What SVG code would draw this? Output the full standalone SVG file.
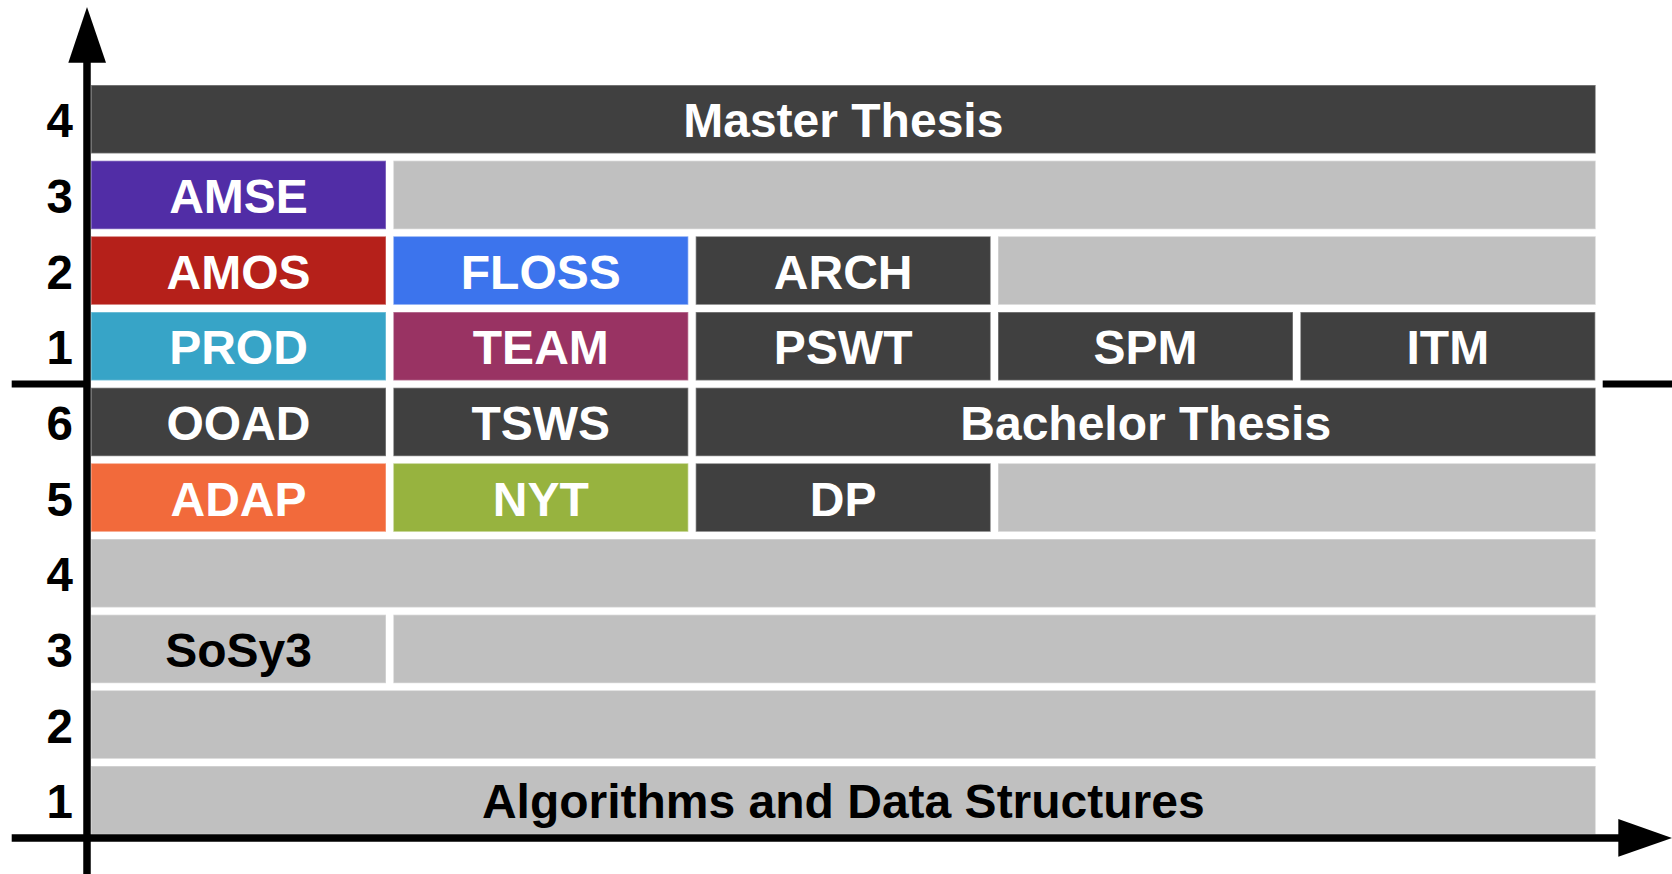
<svg xmlns="http://www.w3.org/2000/svg" width="1672" height="874" viewBox="0 0 1672 874">
<style>
.c{stroke:#ffffff;stroke-opacity:0.35;stroke-width:1.5}
.dk{fill:#404040}.gr{fill:#c0c0c0}
.t{font-family:"Liberation Sans",Arial,sans-serif;font-weight:bold;font-size:48px;text-anchor:middle;fill:#ffffff}
.tb{fill:#000000}
.lab{font-family:"Liberation Sans",Arial,sans-serif;font-weight:bold;font-size:47.5px;text-anchor:end;fill:#000000}
.ax{stroke:#000000;stroke-width:7.5;fill:none}
</style>
<rect width="1672" height="874" fill="#ffffff"/>
<g id="labels">
<text class="lab" x="73" y="137.3">4</text>
<text class="lab" x="73" y="213">3</text>
<text class="lab" x="73" y="288.6">2</text>
<text class="lab" x="73" y="364.3">1</text>
<text class="lab" x="73" y="440">6</text>
<text class="lab" x="73" y="515.6">5</text>
<text class="lab" x="73" y="591.3">4</text>
<text class="lab" x="73" y="667">3</text>
<text class="lab" x="73" y="742.6">2</text>
<text class="lab" x="73" y="818.3">1</text>
</g>
<g id="master"><rect class="c dk" x="91" y="85" width="1504.7" height="68.5"/><text class="t" x="843.3" y="137.3">Master Thesis</text></g>
<g id="amse"><rect class="c" fill="#512da6" x="91" y="160.7" width="295" height="68.5"/><text class="t" x="238.5" y="213">AMSE</text></g>
<g id="r1gap"><rect class="c gr" x="393.3" y="160.7" width="1202.4" height="68.5"/></g>
<g id="amos"><rect class="c" fill="#b5201a" x="91" y="236.3" width="295" height="68.5"/><text class="t" x="238.5" y="288.6">AMOS</text></g>
<g id="floss"><rect class="c" fill="#3c74ed" x="393.3" y="236.3" width="295" height="68.5"/><text class="t" x="540.8" y="288.6">FLOSS</text></g>
<g id="arch"><rect class="c dk" x="695.7" y="236.3" width="295" height="68.5"/><text class="t" x="843.2" y="288.6">ARCH</text></g>
<g id="r2gap"><rect class="c gr" x="998" y="236.3" width="597.7" height="68.5"/></g>
<g id="prod"><rect class="c" fill="#37a4c7" x="91" y="312" width="295" height="68.5"/><text class="t" x="238.5" y="364.3">PROD</text></g>
<g id="team"><rect class="c" fill="#993363" x="393.3" y="312" width="295" height="68.5"/><text class="t" x="540.8" y="364.3">TEAM</text></g>
<g id="pswt"><rect class="c dk" x="695.7" y="312" width="295" height="68.5"/><text class="t" x="843.2" y="364.3">PSWT</text></g>
<g id="spm"><rect class="c dk" x="998" y="312" width="295" height="68.5"/><text class="t" x="1145.5" y="364.3">SPM</text></g>
<g id="itm"><rect class="c dk" x="1300.3" y="312" width="295" height="68.5"/><text class="t" x="1447.8" y="364.3">ITM</text></g>
<g id="ooad"><rect class="c dk" x="91" y="387.7" width="295" height="68.5"/><text class="t" x="238.5" y="440">OOAD</text></g>
<g id="tsws"><rect class="c dk" x="393.3" y="387.7" width="295" height="68.5"/><text class="t" x="540.8" y="440">TSWS</text></g>
<g id="bachelor"><rect class="c dk" x="695.7" y="387.7" width="900" height="68.5"/><text class="t" x="1145.7" y="440">Bachelor Thesis</text></g>
<g id="adap"><rect class="c" fill="#f26a3b" x="91" y="463.3" width="295" height="68.5"/><text class="t" x="238.5" y="515.6">ADAP</text></g>
<g id="nyt"><rect class="c" fill="#97b33f" x="393.3" y="463.3" width="295" height="68.5"/><text class="t" x="540.8" y="515.6">NYT</text></g>
<g id="dp"><rect class="c dk" x="695.7" y="463.3" width="295" height="68.5"/><text class="t" x="843.2" y="515.6">DP</text></g>
<g id="r5gap"><rect class="c gr" x="998" y="463.3" width="597.7" height="68.5"/></g>
<g id="r6"><rect class="c gr" x="91" y="539" width="1504.7" height="68.5"/></g>
<g id="sosy3"><rect class="c gr" x="91" y="614.7" width="295" height="68.5"/><text class="t tb" x="238.5" y="667">SoSy3</text></g>
<g id="r7gap"><rect class="c gr" x="393.3" y="614.7" width="1202.4" height="68.5"/></g>
<g id="r8"><rect class="c gr" x="91" y="690.3" width="1504.7" height="68.5"/></g>
<g id="ads"><rect class="c gr" x="91" y="766" width="1504.7" height="68.5"/><text class="t tb" x="843.3" y="818.3">Algorithms and Data Structures</text></g>
<g id="axes">
<line class="ax" x1="87" y1="60" x2="87" y2="874"/>
<polygon points="87,7 68.3,62.7 106,62.7" fill="#000"/>
<line class="ax" x1="11.7" y1="384" x2="87" y2="384" style="stroke-width:7"/>
<line class="ax" x1="1602.7" y1="384" x2="1672" y2="384" style="stroke-width:7"/>
<line class="ax" x1="11.7" y1="838" x2="1620" y2="838"/>
<polygon points="1672,838 1618.3,819 1618.3,856.7" fill="#000"/>
</g>
</svg>
